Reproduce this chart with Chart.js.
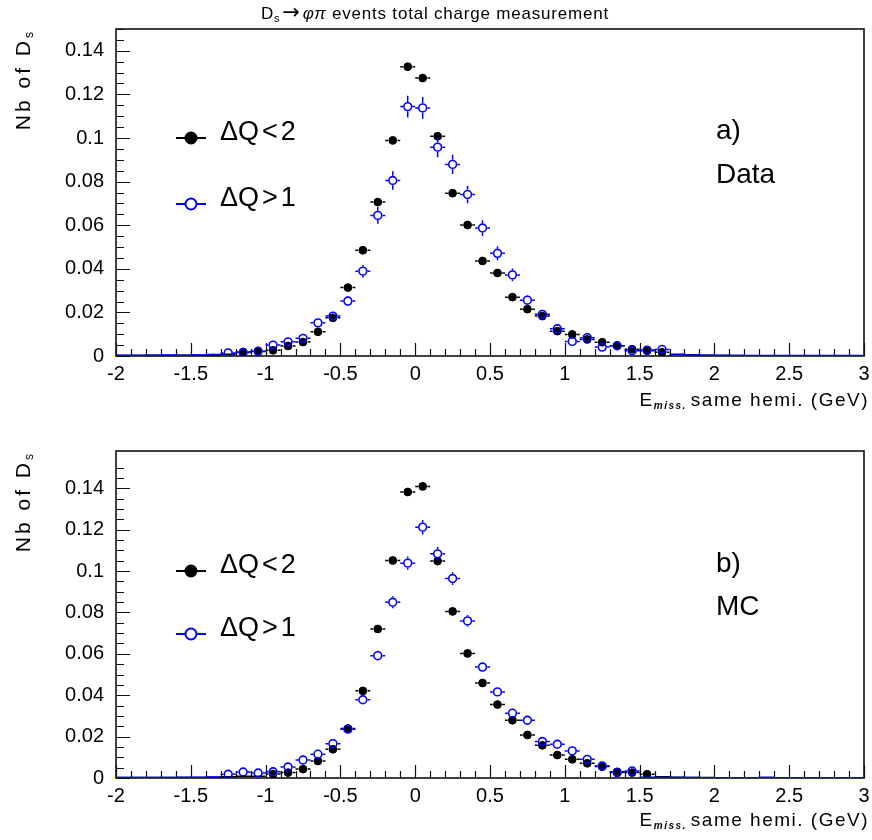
<!DOCTYPE html>
<html>
<head>
<meta charset="utf-8">
<script src="https://cdn.jsdelivr.net/npm/chart.js@4.4.0/dist/chart.umd.min.js"></script>
<style>
  html, body { margin: 0; padding: 0; background: #fff; }
  .panel { position: absolute; left: 0; width: 872px; height: 420px; }
  #top { top: 0; }
  #bottom { top: 420px; }
</style>
</head>
<body>
<div class="panel" id="top"><canvas id="dataChart" width="872" height="420"></canvas></div>
<div class="panel" id="bottom"><canvas id="mcChart" width="872" height="420"></canvas></div>
<script>
// bin centres of E_miss (GeV), 0.1 GeV bins
const binCenters = [-1.95, -1.85, -1.75, -1.65, -1.55, -1.45, -1.35, -1.25, -1.15, -1.05,
  -0.95, -0.85, -0.75, -0.65, -0.55, -0.45, -0.35, -0.25, -0.15, -0.05,
  0.05, 0.15, 0.25, 0.35, 0.45, 0.55, 0.65, 0.75, 0.85, 0.95,
  1.05, 1.15, 1.25, 1.35, 1.45, 1.55, 1.65, 1.75, 1.85, 1.95,
  2.05, 2.15, 2.25, 2.35, 2.45, 2.55, 2.65, 2.75, 2.85, 2.95];

// a) Data
const dataLow = [0.0002, 0.0002, 0.0003, 0.0002, 0.0003, 0.0003, 0.0004, 0.0008, 0.0018, 0.0021,
  0.0026, 0.0046, 0.0064, 0.0111, 0.0175, 0.0314, 0.0485, 0.0706, 0.0989, 0.1327,
  0.1275, 0.1008, 0.0747, 0.0601, 0.0436, 0.0381, 0.0270, 0.0215, 0.0183, 0.0114,
  0.0099, 0.0076, 0.0063, 0.0047, 0.0031, 0.0024, 0.0017, 0.0008, 0.0006, 0.0004,
  0.0002, 0.0002, 0.0001, 0.0001, 0.0001, 0.0001, 0.0001, 0.0001, 0.0001, 0.0001];
const dataLowErr = [0.0001, 0.0001, 0.0001, 0.0001, 0.0001, 0.0001, 0.0001, 0.00013, 0.0002, 0.0002,
  0.00023, 0.0003, 0.00036, 0.00047, 0.0006, 0.0008, 0.001, 0.0012, 0.0014, 0.0016,
  0.0016, 0.0014, 0.0012, 0.0011, 0.0009, 0.0009, 0.0007, 0.0007, 0.0006, 0.0005,
  0.00045, 0.0004, 0.00036, 0.0003, 0.00025, 0.00022, 0.0002, 0.0001, 0.0001, 0.0001,
  0.0001, 0.0001, 0.0001, 0.0001, 0.0001, 0.0001, 0.0001, 0.0001, 0.0001, 0.0001];
const dataHigh = [0.0003, 0.0004, 0.0003, 0.0005, 0.0004, 0.0005, 0.0007, 0.0014, 0.0016, 0.0022,
  0.0050, 0.0065, 0.0081, 0.0152, 0.0183, 0.0252, 0.0389, 0.0645, 0.0805, 0.1144,
  0.1138, 0.0958, 0.0879, 0.0741, 0.0587, 0.0471, 0.0372, 0.0256, 0.0191, 0.0125,
  0.0067, 0.0084, 0.0041, 0.0047, 0.0024, 0.0027, 0.0030, 0.0006, 0.0005, 0.0004,
  0.0003, 0.0002, 0.0002, 0.0002, 0.0002, 0.0002, 0.0002, 0.0002, 0.0002, 0.0002];
const dataHighErr = [0.0003, 0.0003, 0.0003, 0.0003, 0.0003, 0.0003, 0.0004, 0.00055, 0.0006, 0.0007,
  0.0010, 0.0012, 0.0013, 0.0018, 0.0020, 0.0023, 0.0029, 0.0038, 0.0042, 0.0050,
  0.0050, 0.0046, 0.0044, 0.0040, 0.0036, 0.0032, 0.0029, 0.0024, 0.0020, 0.0017,
  0.0012, 0.0014, 0.0009, 0.0010, 0.0007, 0.0008, 0.0008, 0.0003, 0.0003, 0.0003,
  0.0002, 0.0002, 0.0002, 0.0002, 0.0002, 0.0002, 0.0002, 0.0002, 0.0002, 0.0002];

// b) MC
const mcLow = [0.0002, 0.0002, 0.0002, 0.0003, 0.0003, 0.0003, 0.0004, 0.0006, 0.0008, 0.0009,
  0.0019, 0.0026, 0.0043, 0.0082, 0.0139, 0.0239, 0.0421, 0.0720, 0.1051, 0.1382,
  0.1409, 0.1048, 0.0805, 0.0602, 0.0459, 0.0355, 0.0279, 0.0208, 0.0158, 0.0111,
  0.0090, 0.0071, 0.0055, 0.0030, 0.0026, 0.0018, 0.0006, 0.0004, 0.0003, 0.0002,
  0.0001, 0.0001, 0.0001, 0.0001, 0.0001, 0.0001, 0.0001, 0.0001, 0.0001, 0.0001];
const mcLowErr = [0.0001, 0.0001, 0.0001, 0.0001, 0.0001, 0.0001, 0.0001, 0.0001, 0.0001, 0.00012,
  0.00017, 0.0002, 0.00026, 0.00036, 0.00047, 0.0006, 0.0008, 0.0011, 0.0013, 0.0015,
  0.0015, 0.0013, 0.0011, 0.001, 0.0009, 0.00075, 0.00067, 0.00058, 0.0005, 0.00042,
  0.00038, 0.00034, 0.0003, 0.00022, 0.0002, 0.00017, 0.0001, 0.0001, 0.0001, 0.0001,
  0.0001, 0.0001, 0.0001, 0.0001, 0.0001, 0.0001, 0.0001, 0.0001, 0.0001, 0.0001];
const mcHigh = [0.0002, 0.0003, 0.0003, 0.0002, 0.0004, 0.0004, 0.0005, 0.0018, 0.0029, 0.0024,
  0.0030, 0.0053, 0.0087, 0.0115, 0.0166, 0.0236, 0.0378, 0.0591, 0.0849, 0.1038,
  0.1212, 0.1083, 0.0964, 0.0759, 0.0536, 0.0416, 0.0313, 0.0279, 0.0176, 0.0163,
  0.0131, 0.0090, 0.0058, 0.0026, 0.0034, 0.0004, 0.0003, 0.0002, 0.0002, 0.0001,
  0.0001, 0.0001, 0.0001, 0.0004, 0.0001, 0.0001, 0.0001, 0.0001, 0.0001, 0.0001];
const mcHighErr = [0.0002, 0.0002, 0.0002, 0.0002, 0.0002, 0.0002, 0.0002, 0.0004, 0.0005, 0.0005,
  0.0005, 0.0007, 0.0009, 0.0011, 0.0013, 0.0015, 0.0019, 0.0024, 0.0029, 0.0032,
  0.0035, 0.0033, 0.0031, 0.0028, 0.0023, 0.0020, 0.0018, 0.0017, 0.0013, 0.0013,
  0.0011, 0.0009, 0.0008, 0.0005, 0.0006, 0.0002, 0.0002, 0.0002, 0.0002, 0.0001,
  0.0001, 0.0001, 0.0001, 0.0001, 0.0001, 0.0001, 0.0001, 0.0001, 0.0001, 0.0001];

const xTickLabels = ['-2', '-1.5', '-1', '-0.5', '0', '0.5', '1', '1.5', '2', '2.5', '3'];
const yTickLabels = ['0', '0.02', '0.04', '0.06', '0.08', '0.1', '0.12', '0.14'];

const FONT = '"Liberation Sans", Arial, sans-serif';
const BIN_HALF = 0.05;
const BLUE = '#0000ff';

function isMultiple(v, step) {
  const k = Math.round(v / step);
  return Math.abs(v / step - k) < 1e-6 ? k : null;
}

// ROOT-like frame with ticks pointing inside
const frameTicks = {
  id: 'frameTicks',
  beforeDatasetsDraw(chart) {
    const {ctx, chartArea: a, scales} = chart;
    ctx.save();
    ctx.strokeStyle = '#111';
    ctx.lineWidth = 1.6;
    ctx.strokeRect(a.left, a.top, a.right - a.left, a.bottom - a.top);
    ctx.lineWidth = 1.2;
    ctx.beginPath();
    scales.x.ticks.forEach(t => {
      if (isMultiple(t.value, 0.1) === null) return;
      const px = Math.round(scales.x.getPixelForValue(t.value)) + 0.5;
      const len = isMultiple(t.value, 0.5) !== null ? 13 : 7;
      ctx.moveTo(px, a.bottom);
      ctx.lineTo(px, a.bottom - len);
    });
    scales.y.ticks.forEach(t => {
      if (isMultiple(t.value, 0.005) === null) return;
      const py = Math.round(scales.y.getPixelForValue(t.value)) + 0.5;
      const len = isMultiple(t.value, 0.02) !== null ? 14 : 8;
      ctx.moveTo(a.left, py);
      ctx.lineTo(a.left + len, py);
    });
    ctx.stroke();
    ctx.restore();
  }
};

// horizontal (bin width) and vertical error bars, gapped around the marker
const errorBars = {
  id: 'errorBars',
  beforeDatasetDraw(chart, args) {
    const ds = chart.data.datasets[args.index];
    const {ctx, chartArea: a, scales} = chart;
    ctx.save();
    ctx.beginPath();
    ctx.rect(a.left, a.top - 5, a.right - a.left, a.bottom - a.top + 5);
    ctx.clip();
    ctx.strokeStyle = ds.borderColor;
    ctx.lineWidth = ds.errorWidth;
    ctx.beginPath();
    args.meta.data.forEach((pt, i) => {
      const p = ds.data[i];
      const r = pt.options.radius > 0 ? pt.options.radius + 0.8 : 0;
      const cx = pt.x, cy = pt.y;
      const xl = scales.x.getPixelForValue(p.x - BIN_HALF);
      const xr = scales.x.getPixelForValue(p.x + BIN_HALF);
      const yt = scales.y.getPixelForValue(p.y + ds.errors[i]);
      const yb = scales.y.getPixelForValue(Math.max(0, p.y - ds.errors[i]));
      ctx.moveTo(xl, cy); ctx.lineTo(cx - r, cy);
      ctx.moveTo(cx + r, cy); ctx.lineTo(xr, cy);
      if (cy - r > yt) { ctx.moveTo(cx, yt); ctx.lineTo(cx, cy - r); }
      if (yb > cy + r) { ctx.moveTo(cx, cy + r); ctx.lineTo(cx, yb); }
    });
    ctx.stroke();
    ctx.restore();
  }
};

function drawParts(ctx, parts, x, y, align, spacing) {
  ctx.letterSpacing = (spacing || 0) + 'px';
  let w = 0;
  parts.forEach(p => { ctx.font = p.font; p.w = ctx.measureText(p.text).width; w += p.w + (p.gap || 0); });
  let cur = align === 'center' ? x - w / 2 : align === 'right' ? x - w : x;
  ctx.textAlign = 'left';
  ctx.textBaseline = 'alphabetic';
  parts.forEach(p => {
    ctx.font = p.font;
    ctx.fillText(p.text, cur, y + (p.dy || 0));
    cur += p.w + (p.gap || 0);
  });
  ctx.letterSpacing = '0px';
}

const annotations = {
  id: 'annotations',
  afterDraw(chart, args, opts) {
    const ctx = chart.ctx;
    ctx.save();
    ctx.fillStyle = '#000';

    if (opts.title) {
      drawParts(ctx, [
        {text: 'D', font: `17px ${FONT}`},
        {text: 's', font: `11px ${FONT}`, dy: 3, gap: 2},
        {text: '\u2192', font: `21px "DejaVu Sans", ${FONT}`, gap: 2},
        {text: '\u03c6\u03c0', font: `italic 17px ${FONT}`},
        {text: ' events total charge measurement', font: `17px ${FONT}`}
      ], 435, 19, 'center', 0.8);
    }

    // y title, rotated
    ctx.save();
    ctx.translate(30, chart.chartArea.top);
    ctx.rotate(-Math.PI / 2);
    drawParts(ctx, [
      {text: 'Nb of D', font: `21px ${FONT}`},
      {text: 's', font: `12px ${FONT}`, dy: 3}
    ], 0, 0, 'right', 3);
    ctx.restore();

    // x title
    drawParts(ctx, [
      {text: 'E', font: `19px ${FONT}`},
      {text: 'miss.', font: `bold italic 10px ${FONT}`, dy: 3, gap: 4},
      {text: 'same hemi. (GeV)', font: `19px ${FONT}`}
    ], 869, 406, 'right', 1.5);

    // legend
    const legend = [
      {label: ['\u0394Q', '<', '2'], color: '#000', fill: '#000', y: opts.legendY[0]},
      {label: ['\u0394Q', '>', '1'], color: BLUE, fill: null, y: opts.legendY[1]}
    ];
    legend.forEach(e => {
      ctx.strokeStyle = e.color;
      ctx.lineWidth = 2;
      ctx.beginPath();
      ctx.moveTo(176, e.y); ctx.lineTo(185, e.y);
      ctx.moveTo(197, e.y); ctx.lineTo(206, e.y);
      ctx.stroke();
      ctx.beginPath();
      ctx.arc(191, e.y, 5.5, 0, Math.PI * 2);
      if (e.fill) { ctx.fillStyle = e.fill; ctx.fill(); }
      ctx.stroke();
      ctx.fillStyle = '#000';
      drawParts(ctx, [
        {text: e.label[0], font: `27px ${FONT}`, gap: 3},
        {text: e.label[1], font: `27px ${FONT}`, gap: 3},
        {text: e.label[2], font: `27px ${FONT}`}
      ], 220, e.y + 2, 'left');
    });

    // panel tag
    ctx.font = `28px ${FONT}`;
    ctx.textAlign = 'left';
    ctx.fillText(opts.tag[0], 716, opts.tagY[0]);
    ctx.fillText(opts.tag[1], 716, opts.tagY[1]);
    ctx.restore();
  }
};

function makePanel(id, low, lowErr, high, highErr, yMax, padTop, notes) {
  const toPoints = vals => binCenters.map((x, i) => ({x: x, y: vals[i]}));
  const radius = c => (c.raw && c.raw.y < 0.001 ? 0 : 3.9);
  return new Chart(document.getElementById(id), {
    type: 'scatter',
    data: {
      datasets: [
        {
          label: '\u0394Q<2', data: toPoints(low), errors: lowErr, errorWidth: 1.5, order: 2,
          pointRadius: radius, pointBackgroundColor: '#000', pointBorderColor: '#000',
          pointBorderWidth: 1, borderColor: '#000', showLine: false
        },
        {
          label: '\u0394Q>1', data: toPoints(high), errors: highErr, errorWidth: 1.5, order: 1,
          pointRadius: radius, pointBackgroundColor: 'rgba(0,0,0,0)', pointBorderColor: BLUE,
          pointBorderWidth: 1.6, borderColor: BLUE, showLine: false
        }
      ]
    },
    options: {
      responsive: false,
      animation: false,
      layout: {padding: {top: padTop, right: 8, left: 0, bottom: 0}},
      plugins: {
        legend: {display: false},
        tooltip: {enabled: false},
        annotations: notes
      },
      scales: {
        x: {
          type: 'linear', min: -2, max: 3,
          grid: {display: false, drawTicks: false},
          border: {display: false},
          ticks: {
            stepSize: 0.1, autoSkip: false, maxRotation: 0, padding: 6,
            color: '#000', font: {family: FONT, size: 20},
            callback: v => { const k = isMultiple(v, 0.5); return k === null ? '' : xTickLabels[k + 4]; }
          },
          afterFit: s => {
            s.height = 420 - 356 - (padTop - 29);
            s.paddingLeft = 0;
            s.paddingRight = 0;
          }
        },
        y: {
          type: 'linear', min: 0, max: yMax,
          grid: {display: false, drawTicks: false},
          border: {display: false},
          ticks: {
            stepSize: 0.005, autoSkip: false, padding: 12,
            color: '#000', font: {family: FONT, size: 20},
            callback: v => { const k = isMultiple(v, 0.02); return k === null ? '' : (yTickLabels[k] || ''); }
          },
          afterFit: s => { s.width = 116; }
        }
      }
    },
    plugins: [frameTicks, errorBars, annotations]
  });
}

makePanel('dataChart', dataLow, dataLowErr, dataHigh, dataHighErr, 0.15, 29,
  {title: true, legendY: [138, 204], tag: ['a)', 'Data'], tagY: [139, 183]});
makePanel('mcChart', mcLow, mcLowErr, mcHigh, mcHighErr, 0.158, 31,
  {title: false, legendY: [151, 214], tag: ['b)', 'MC'], tagY: [152, 195]});
</script>
</body>
</html>
